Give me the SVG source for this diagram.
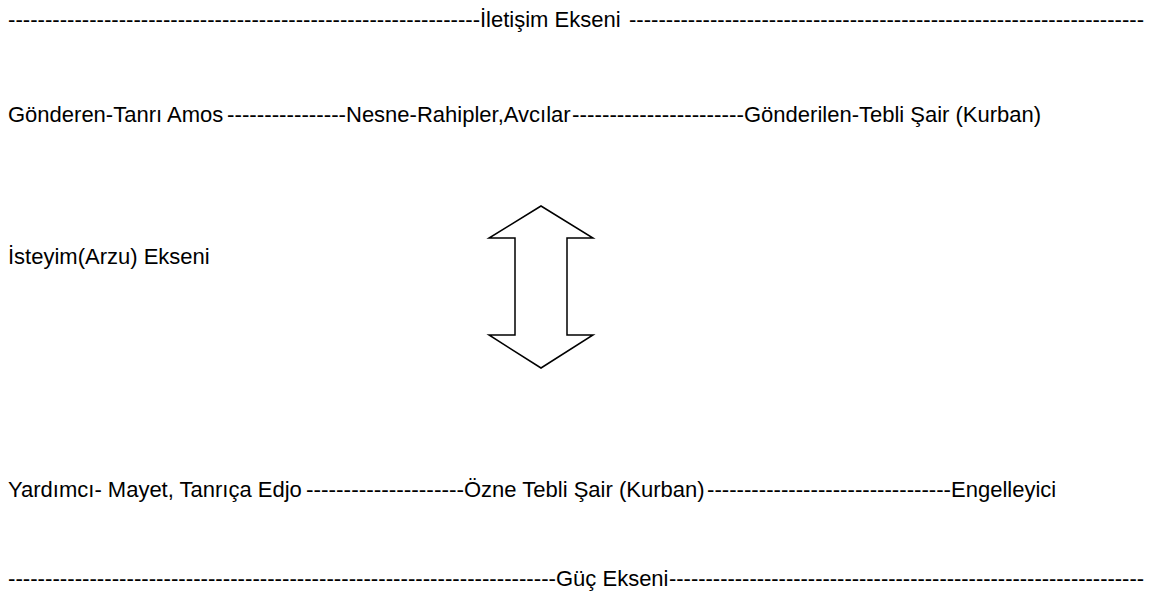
<svg xmlns="http://www.w3.org/2000/svg" width="1154" height="603" viewBox="0 0 1154 603">
  <style>
    .t { font-family: "Liberation Sans", Arial, sans-serif; font-size: 22px; fill: #000; }
    .arrow { fill: #fff; stroke: #000; stroke-width: 1.5; stroke-linejoin: miter; }
  </style>
  <rect width="1154" height="603" fill="#fff"/>

  <!-- communication axis -->
  <g id="iletisim-ekseni">
    <text class="t" x="8" y="27" textLength="472" lengthAdjust="spacingAndGlyphs">----------------------------------------------------------------</text>
    <text class="t" x="480" y="27">İletişim Ekseni</text>
    <text class="t" x="629" y="27" textLength="515" lengthAdjust="spacingAndGlyphs">----------------------------------------------------------------------</text>
  </g>

  <!-- sender / object / receiver row -->
  <g id="gonderen-nesne-gonderilen">
    <text class="t" x="8" y="122">Gönderen-Tanrı Amos</text>
    <text class="t" x="227" y="122" textLength="119" lengthAdjust="spacingAndGlyphs">----------------</text>
    <text class="t" x="346" y="122">Nesne-Rahipler,Avcılar</text>
    <text class="t" x="572" y="122" textLength="172" lengthAdjust="spacingAndGlyphs">-----------------------</text>
    <text class="t" x="744" y="122">Gönderilen-Tebli Şair (Kurban)</text>
  </g>

  <!-- desire axis label -->
  <g id="isteyim-ekseni">
    <text class="t" x="8" y="264">İsteyim(Arzu) Ekseni</text>
  </g>

  <!-- double-headed block arrow -->
  <g id="cift-ok">
    <polygon class="arrow" points="541,206 593,238 567,238 567,335 593,335 541,368 489,335 515,335 515,238 489,238"/>
  </g>

  <!-- helper / subject / opponent row -->
  <g id="yardimci-ozne-engelleyici">
    <text class="t" x="8" y="497">Yardımcı- Mayet, Tanrıça Edjo</text>
    <text class="t" x="306" y="497" textLength="158" lengthAdjust="spacingAndGlyphs">---------------------</text>
    <text class="t" x="464" y="497">Özne Tebli Şair (Kurban)</text>
    <text class="t" x="707" y="497" textLength="244" lengthAdjust="spacingAndGlyphs">---------------------------------</text>
    <text class="t" x="951" y="497">Engelleyici</text>
  </g>

  <!-- power axis -->
  <g id="guc-ekseni">
    <text class="t" x="8" y="586" textLength="548" lengthAdjust="spacingAndGlyphs">--------------------------------------------------------------------------</text>
    <text class="t" x="556" y="586">Güç Ekseni</text>
    <text class="t" x="669" y="586" textLength="475" lengthAdjust="spacingAndGlyphs">-----------------------------------------------------------------</text>
  </g>
</svg>
